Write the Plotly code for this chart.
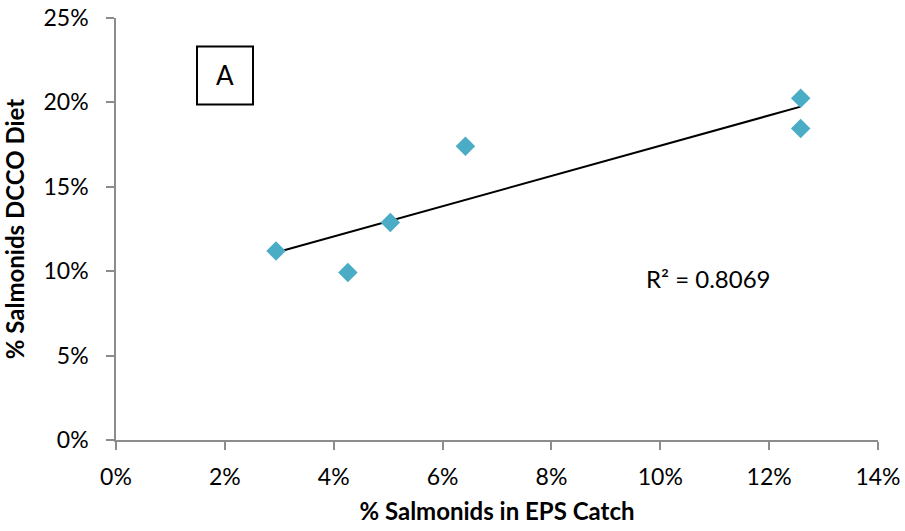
import numpy as np
import plotly.graph_objects as go

# Data (fractions)
eps_catch = [0.0294, 0.0426, 0.0504, 0.0642, 0.1258, 0.1258]
dcco_diet = [0.1120, 0.0992, 0.1288, 0.1740, 0.2025, 0.1845]
x_ticks = [0, 0.02, 0.04, 0.06, 0.08, 0.10, 0.12, 0.14]
y_ticks = [0, 0.05, 0.10, 0.15, 0.20, 0.25]
panel_label = "A"
r2_label = "R² = 0.8069"

FONT = "Lato, 'Open Sans', sans-serif"

slope, intercept = np.polyfit(eps_catch, dcco_diet, 1)
tx = [min(eps_catch), max(eps_catch)]
ty = [slope * v + intercept for v in tx]

fig = go.Figure()
fig.add_trace(go.Scatter(x=tx, y=ty, mode="lines",
                         line=dict(color="black", width=2),
                         hoverinfo="skip", showlegend=False))
fig.add_trace(go.Scatter(x=eps_catch, y=dcco_diet, mode="markers",
                         marker=dict(symbol="diamond", size=15, color="#4bacc6"),
                         showlegend=False))

axis_common = dict(showgrid=False, zeroline=False, showline=True, automargin=False,
                   linecolor="#8c8c8c", linewidth=1.5,
                   ticks="outside", ticklen=8, tickcolor="#8c8c8c", tickwidth=1.5,
                   tickformat=".0%", tickfont=dict(family=FONT, size=23, color="black"))

fig.update_xaxes(range=[0, 0.14], tickvals=x_ticks, ticklabelstandoff=8, **axis_common,
                 title=dict(text="<b>% Salmonids in EPS Catch</b>",
                            font=dict(family=FONT, size=24, color="black"), standoff=14))
fig.update_yaxes(range=[0, 0.25], tickvals=y_ticks, ticklabelstandoff=13, **axis_common,
                 title=dict(text="<b>% Salmonids DCCO Diet</b>",
                            font=dict(family=FONT, size=24, color="black"), standoff=14))

PW, PH = 762, 422.5
fig.add_shape(type="rect", xref="paper", yref="paper",
              x0=(197 - 116) / PW, x1=(253 - 116) / PW,
              y0=(440 - 104) / PH, y1=(440 - 46) / PH,
              line=dict(color="black", width=2), fillcolor="white", layer="below")
fig.add_annotation(xref="paper", yref="paper", xanchor="center", yanchor="middle",
                   x=(225 - 116) / PW, y=(440 - 75) / PH,
                   text=panel_label, showarrow=False,
                   font=dict(family=FONT, size=26, color="black"))
fig.add_annotation(xref="paper", yref="paper", xanchor="center", yanchor="middle",
                   x=(708 - 116) / PW, y=(440 - 278) / PH,
                   text=r2_label, showarrow=False,
                   font=dict(family=FONT, size=24, color="black"))

fig.update_layout(width=905, height=531,
                  margin=dict(l=116, r=27, t=17.5, b=91),
                  plot_bgcolor="white", paper_bgcolor="white")

fig.write_html("out.html")
